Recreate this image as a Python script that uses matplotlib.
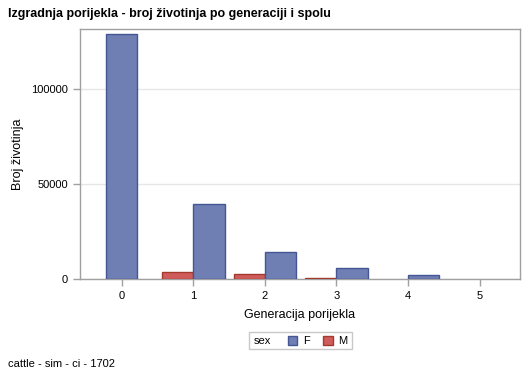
import matplotlib
matplotlib.use("Agg")
import matplotlib.pyplot as plt
from matplotlib.patches import Rectangle, Patch
import numpy as np

plt.rcParams['font.family'] = ['Liberation Sans', 'DejaVu Sans']

generations = [0, 1, 2, 3, 4, 5]
female = [129300, 39700, 14100, 5600, 2100, 0]
male = [0, 3900, 2600, 500, 0, 0]
male_present = [False, True, True, True, True, False]

title = "Izgradnja porijekla - broj životinja po generaciji i spolu"
footnote = "cattle - sim - ci - 1702"

F_FILL, F_EDGE = "#6F7EB3", "#445694"
M_FILL, M_EDGE = "#D05B5B", "#A23A2E"
AXC = "#A0A0A0"

W, H = 529, 378
fig = plt.figure(figsize=(W / 100, H / 100), dpi=100)
L, R, T, B = 80, 520, 28.7, 279
ax = fig.add_axes([L / W, 1 - B / H, (R - L) / W, (B - T) / H])

bw = 0.438
for g, f, m, mp in zip(generations, female, male, male_present):
    if mp:
        if m > 0:
            ax.bar(g - bw / 2, m, width=bw, color=M_FILL, edgecolor=M_EDGE, linewidth=1, zorder=3)
        if f > 0:
            ax.bar(g + bw / 2, f, width=bw, color=F_FILL, edgecolor=F_EDGE, linewidth=1, zorder=3)
    else:
        if f > 0:
            ax.bar(g, f, width=bw, color=F_FILL, edgecolor=F_EDGE, linewidth=1, zorder=3)

ax.set_xlim(-0.582, 5.563)
ax.set_ylim(0, 132000)
ax.set_xticks(generations)
ax.set_xticklabels([str(g) for g in generations])
ax.set_yticks([0, 50000, 100000])
ax.set_yticklabels(["0", "50000", "100000"])
ax.grid(axis='y', color="#E6E6E6", linewidth=1, zorder=0)
for s in ax.spines.values():
    s.set_color(AXC)
    s.set_linewidth(1)
ax.tick_params(axis='both', colors=AXC, labelcolor='black', labelsize=8, length=5, width=1)
ax.set_xlabel("Generacija porijekla", fontsize=9, labelpad=6)
ax.set_ylabel("Broj životinja", fontsize=9)
ax.yaxis.set_label_coords((23.5 - L) / (R - L), 0.5)

fig.text(8 / W, 1 - 14 / H, title, fontsize=9, fontweight='bold', va='center', ha='left')
fig.text(8 / W, 1 - 364 / H, footnote, fontsize=8, va='center', ha='left')

# legend box
fig.patches.append(Rectangle((249 / W, 1 - 349 / H), 103 / W, 17 / H, transform=fig.transFigure,
                             facecolor='white', edgecolor='#C8C8C8', linewidth=1))
fig.text(254 / W, 1 - 341 / H, "sex", fontsize=8, va='center', ha='left')
handles = [Patch(facecolor=F_FILL, edgecolor=F_EDGE, label='F'),
           Patch(facecolor=M_FILL, edgecolor=M_EDGE, label='M')]
fig.legend(handles=handles, loc='center left', bbox_to_anchor=(288 / W, 1 - 341 / H), ncol=2,
           frameon=False, fontsize=8, handlelength=0.85, handleheight=0.85,
           handletextpad=0.5, columnspacing=1.2, borderpad=0, borderaxespad=0)

fig.savefig("out.png", dpi=100)
